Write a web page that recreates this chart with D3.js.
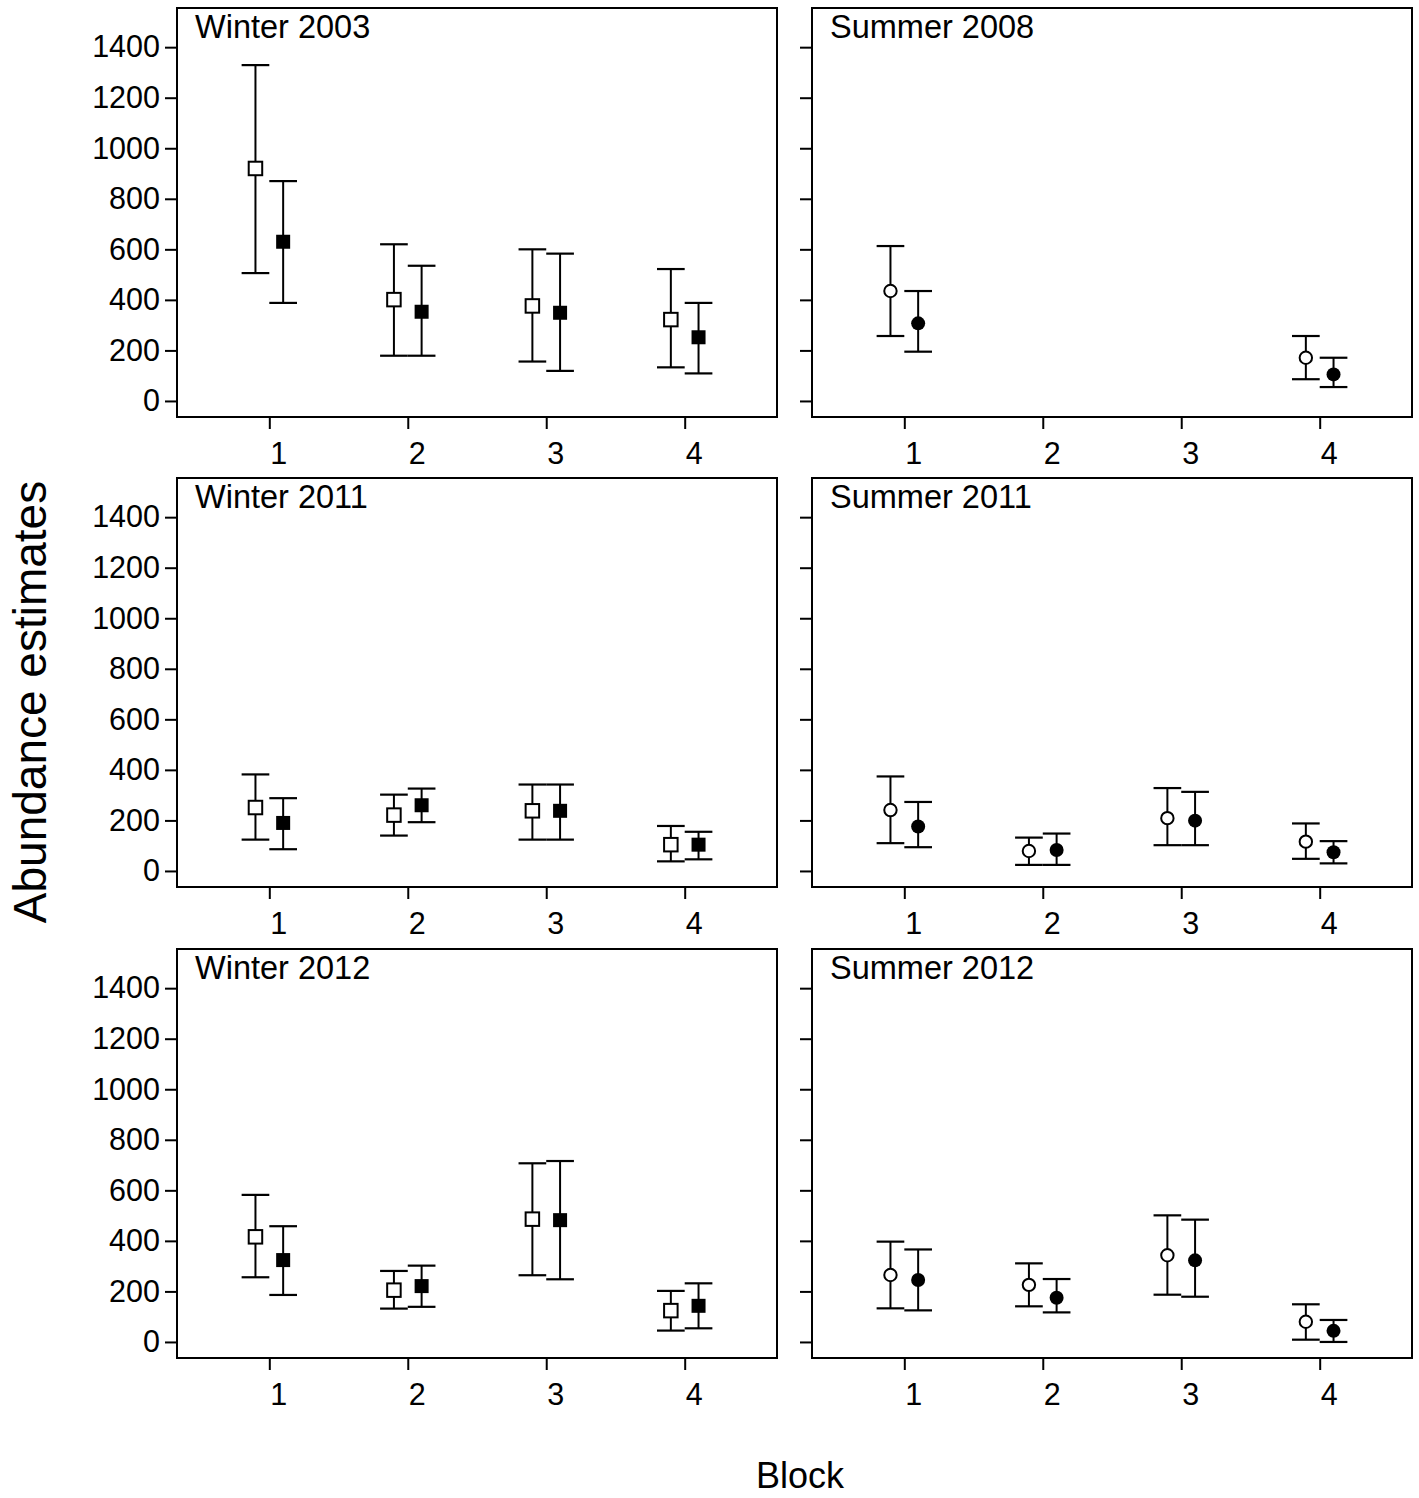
<!DOCTYPE html>
<html>
<head>
<meta charset="utf-8">
<script src="https://cdn.jsdelivr.net/npm/d3@7/dist/d3.min.js"></script>
<style>
  html, body { margin: 0; padding: 0; background: #fff; }
  svg { display: block; }
  text { font-family: "Liberation Sans", Arial, Helvetica, sans-serif; fill: #000; }
</style>
</head>
<body>
<svg id="chart" width="1419" height="1498"></svg>
<script>
// ---- Data ----
const blocks = [1, 2, 3, 4];
const blockLabels = ["1", "2", "3", "4"];
const yTicks = [0, 200, 400, 600, 800, 1000, 1200, 1400];
const panelTitles = ["Winter 2003", "Summer 2008", "Winter 2011", "Summer 2011", "Winter 2012", "Summer 2012"];
const panelSeason = ["winter", "summer", "winter", "summer", "winter", "summer"];

// Series A (open markers): estimate, lower and upper limits per block
const meanA = [
  [920, 401, 376, 322],
  [435, null, null, 171],
  [251, 221, 238, 104],
  [241, 79, 209, 116],
  [416, 205, 486, 124],
  [265, 226, 343, 80]
];
const lowA = [
  [506, 179, 156, 133],
  [257, null, null, 86],
  [124, 140, 124, 38],
  [110, 24, 102, 48],
  [256, 132, 264, 45],
  [133, 141, 187, 9]
];
const highA = [
  [1329, 620, 600, 522],
  [613, null, null, 257],
  [382, 302, 342, 178],
  [374, 132, 328, 188],
  [582, 281, 707, 202],
  [397, 311, 501, 149]
];

// Series B (filled markers)
const meanB = [
  [630, 353, 349, 252],
  [307, null, null, 105],
  [190, 260, 238, 104],
  [176, 83, 199, 74],
  [324, 221, 482, 143],
  [245, 175, 323, 44]
];
const lowB = [
  [388, 179, 119, 109],
  [195, null, null, 55],
  [86, 193, 124, 46],
  [94, 24, 102, 30],
  [186, 139, 248, 54],
  [125, 117, 179, 0]
];
const highB = [
  [870, 535, 583, 388],
  [435, null, null, 171],
  [288, 326, 342, 155],
  [273, 148, 313, 118],
  [458, 302, 716, 232],
  [366, 249, 484, 87]
];

// ---- Layout ----
const colLeft = [177, 812];
const rowTop = [8, 478, 949];
const pw = 600, ph = 409;
const offset = 0.1;   // horizontal dodge of the two series
const capHalf = 0.1;  // cap half-width in block units

const svg = d3.select("#chart");

const x = d3.scaleLinear().domain([1/3, 14/3]).range([0, pw]);
const y = d3.scaleLinear().domain([-63.5, 1555]).range([ph, 0]);

panelTitles.forEach((title, p) => {
  const col = p % 2, row = Math.floor(p / 2);
  const g = svg.append("g").attr("transform", `translate(${colLeft[col]},${rowTop[row]})`);

  // y axis
  const yAxis = d3.axisLeft(y).tickValues(yTicks).tickSize(12).tickPadding(5)
    .tickFormat(col === 0 ? d3.format("d") : () => "");
  const ya = g.append("g").call(yAxis);
  ya.select(".domain").remove();
  ya.selectAll(".tick line").attr("stroke", "#000").attr("stroke-width", 2);
  ya.selectAll(".tick text").attr("font-size", 30.5).attr("font-family", '"Liberation Sans", Arial, sans-serif').attr("fill", "#000");

  // x axis
  const xAxis = d3.axisBottom(x).tickValues(blocks).tickSize(12).tickPadding(13)
    .tickFormat((d, i) => blockLabels[i]);
  const xa = g.append("g").attr("transform", `translate(0,${ph})`).call(xAxis);
  xa.select(".domain").remove();
  xa.selectAll(".tick line").attr("stroke", "#000").attr("stroke-width", 2);
  xa.selectAll(".tick text").attr("font-size", 30.5).attr("dx", 9)
    .attr("font-family", '"Liberation Sans", Arial, sans-serif').attr("fill", "#000");

  // frame
  g.append("rect").attr("x", 0).attr("y", 0).attr("width", pw).attr("height", ph)
    .attr("fill", "none").attr("stroke", "#000").attr("stroke-width", 2);

  // title
  g.append("text").attr("x", 18).attr("y", 30).attr("font-size", 32.5).text(title);

  const series = [
    { mean: meanA[p], low: lowA[p], high: highA[p], dx: -offset, filled: false },
    { mean: meanB[p], low: lowB[p], high: highB[p], dx: offset, filled: true }
  ];

  series.forEach(s => {
    blocks.forEach((b, i) => {
      if (s.mean[i] == null) return;
      const cx = x(b + s.dx);
      const eg = g.append("g");
      // vertical bar
      eg.append("line").attr("x1", cx).attr("x2", cx)
        .attr("y1", y(s.low[i])).attr("y2", y(s.high[i]))
        .attr("stroke", "#000").attr("stroke-width", 2);
      // caps
      [s.low[i], s.high[i]].forEach(v => {
        eg.append("line")
          .attr("x1", x(b + s.dx - capHalf)).attr("x2", x(b + s.dx + capHalf))
          .attr("y1", y(v)).attr("y2", y(v))
          .attr("stroke", "#000").attr("stroke-width", 2.2);
      });
      const cy = y(s.mean[i]);
      if (panelSeason[p] === "winter") {
        const size = s.filled ? 14 : 13.5;
        eg.append("rect").attr("x", cx - size / 2).attr("y", cy - size / 2)
          .attr("width", size).attr("height", size)
          .attr("fill", s.filled ? "#000" : "#fff")
          .attr("stroke", "#000").attr("stroke-width", s.filled ? 0 : 2);
      } else {
        eg.append("circle").attr("cx", cx).attr("cy", cy).attr("r", s.filled ? 7 : 6.2)
          .attr("fill", s.filled ? "#000" : "#fff")
          .attr("stroke", "#000").attr("stroke-width", s.filled ? 0 : 2);
      }
    });
  });
});

// axis titles
svg.append("text").attr("transform", "translate(46,702) rotate(-90)")
  .attr("text-anchor", "middle").attr("font-size", 46).text("Abundance estimates");
svg.append("text").attr("x", 800).attr("y", 1488)
  .attr("text-anchor", "middle").attr("font-size", 36).text("Block");
</script>
</body>
</html>
